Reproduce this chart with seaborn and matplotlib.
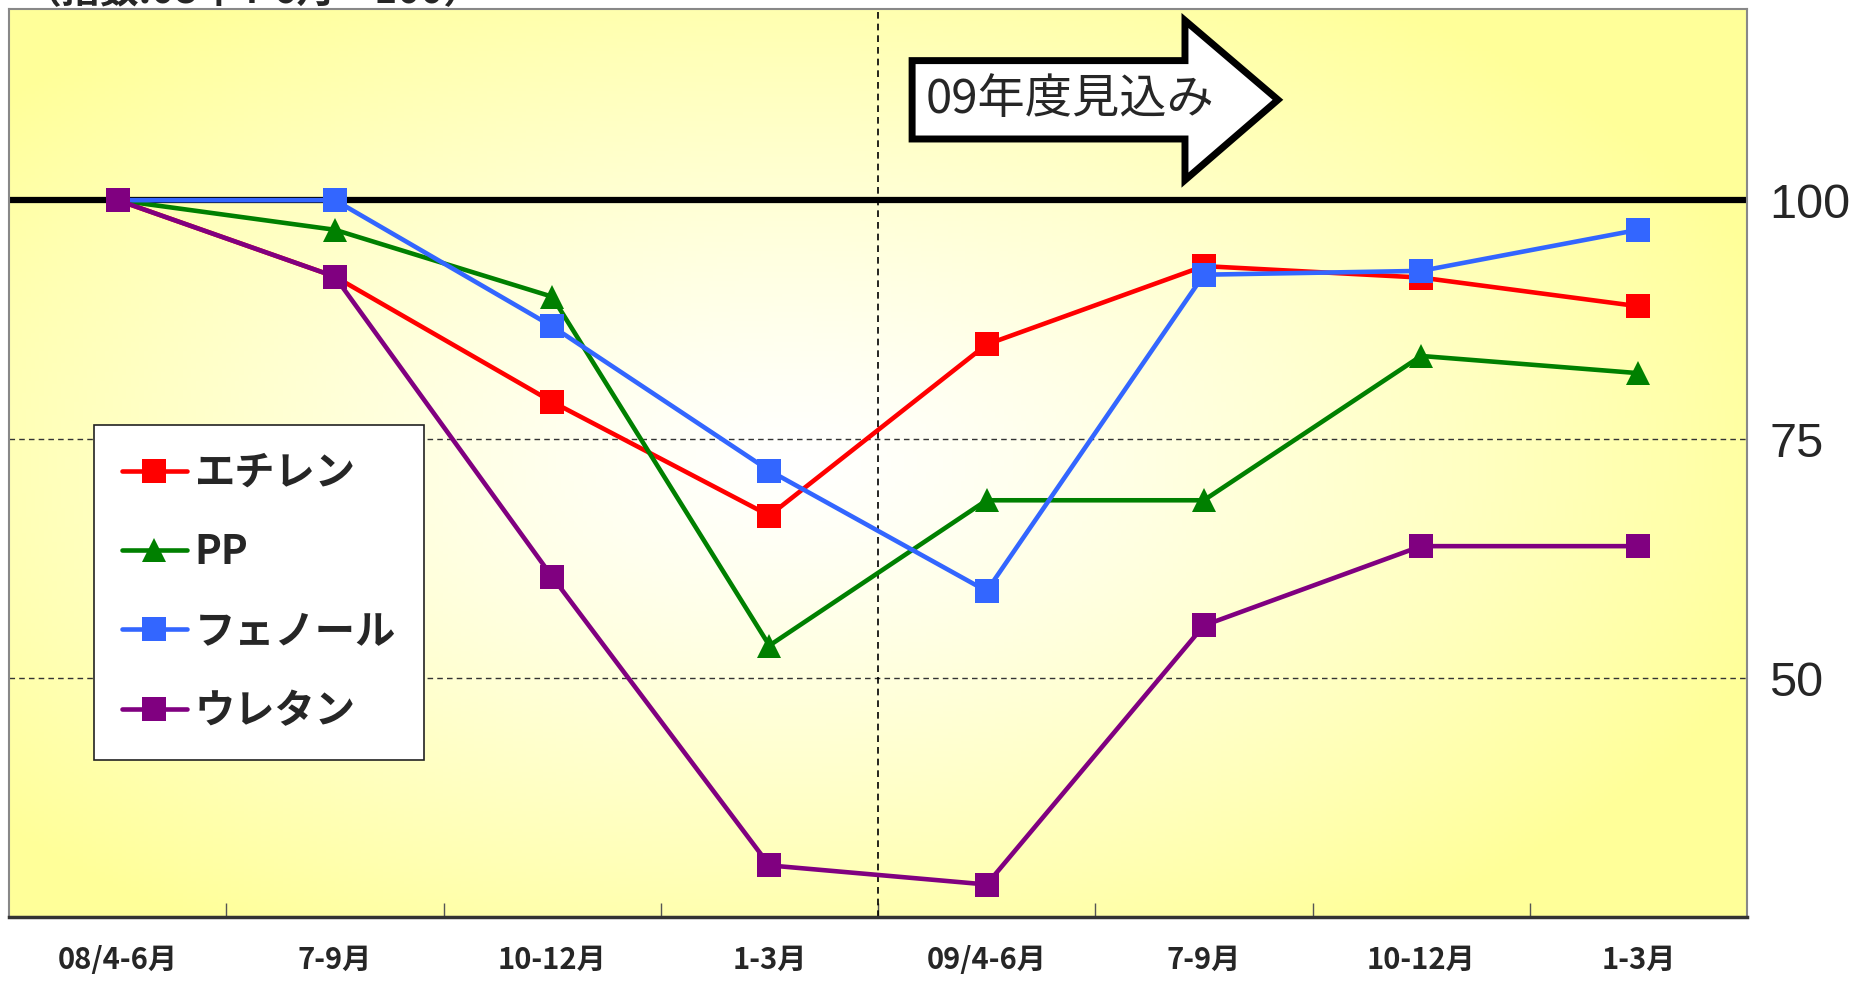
import numpy as np
import pandas as pd
import matplotlib
matplotlib.use('Agg')
import matplotlib.pyplot as plt
from matplotlib.patches import Polygon
import seaborn as sns

# データ（指数：08年4-6月＝100）
quarters = ['08/4-6月', '7-9月', '10-12月', '1-3月', '09/4-6月', '7-9月', '10-12月', '1-3月']
series_names = ['エチレン', 'PP', 'フェノール', 'ウレタン']
ethylene = [100, 92.0, 78.9, 67.0, 84.9, 93.1, 91.9, 88.9]
pp = [100, 96.9, 89.9, 53.4, 68.6, 68.6, 83.7, 81.9]
phenol = [100, 100, 86.8, 71.7, 59.1, 92.2, 92.6, 96.9]
urethane = [100, 92.0, 60.6, 30.4, 28.4, 55.5, 63.8, 63.8]
y_ticks = [50, 75, 100]

colors = ['#FF0000', '#008000', '#3366FF', '#800080']
markers = ['s', '^', 's', 's']

sns.set_style('white')
plt.rcParams['font.family'] = ['Noto Sans CJK JP', 'DejaVu Sans']

fig = plt.figure(figsize=(18.53, 9.81), dpi=100)
ax = fig.add_axes([9 / 1853, 1 - 917 / 981, 1738 / 1853, 908 / 981])

# 背景グラデーション
gx, gy = np.meshgrid(np.linspace(0, 1, 400), np.linspace(0, 1, 300))
d = np.sqrt(((gx - 0.45) / 0.6) ** 2 + ((gy - 0.5) / 0.62) ** 2)
t = np.clip(d, 0, 1) ** 1.2
yellow = np.array([1.0, 1.0, 0.6])
img = (1 - t)[..., None] * np.array([1.0, 1.0, 1.0]) + t[..., None] * yellow
ax.imshow(img, extent=[-0.5, 7.5, 25, 120], origin='lower', aspect='auto', zorder=0)

x = np.arange(len(quarters))
df = pd.DataFrame({'x': np.tile(x, 4),
                   'value': ethylene + pp + phenol + urethane,
                   'series': np.repeat(series_names, len(quarters))})

for y in [50, 75]:
    ax.axhline(y, color='#333333', lw=1.0, ls=(0, (4, 3)), zorder=1)
ax.axhline(100, color='black', lw=4.5, zorder=2)
ax.axvline(3.5, color='black', lw=1.2, ls=(0, (4, 3)), zorder=1)

for name, c, m in zip(series_names, colors, markers):
    sub = df[df['series'] == name]
    sns.lineplot(data=sub, x='x', y='value', color=c, marker=m, markersize=17,
                 markeredgewidth=0, lw=3.3, label=name, ax=ax, zorder=3)

ax.set_xlim(-0.5, 7.5)
ax.set_ylim(25, 120)
ax.set_xlabel('')
ax.set_ylabel('')

ax.set_xticks(x)
ax.set_xticklabels(quarters, fontsize=21, fontweight='bold')
ax.set_xticks(np.arange(0.5, 7.5, 1), minor=True)
ax.tick_params(axis='x', which='major', length=0, pad=20)
ax.tick_params(axis='x', which='minor', direction='in', length=10, width=1, color='#555555', bottom=True)

ax.set_yticks(y_ticks)
ax.yaxis.tick_right()
ax.tick_params(axis='y', length=0, pad=16, labelsize=35)
for lab in ax.get_yticklabels():
    lab.set_family(['Liberation Sans', 'DejaVu Sans'])

for s in ['left', 'top', 'right']:
    ax.spines[s].set_color('#888888')
    ax.spines[s].set_linewidth(1.5)
ax.spines['bottom'].set_color('#333333')
ax.spines['bottom'].set_linewidth(2.5)

leg = ax.legend(loc='upper left', bbox_to_anchor=(0.0489, 0.542), borderaxespad=0,
                prop={'weight': 'bold', 'size': 29}, frameon=True, fancybox=False,
                handlelength=1.6, handletextpad=0.2, labelspacing=0.95, borderpad=0.7)
leg.get_frame().set_edgecolor('#222222')
leg.get_frame().set_linewidth(1.2)
leg.get_frame().set_facecolor('white')
leg.get_frame().set_alpha(1)
leg.set_zorder(5)

# 矢印
arrow = Polygon([(3.657, 114.6), (4.913, 114.6), (4.913, 118.8), (5.341, 110.5),
                 (4.913, 102.1), (4.913, 106.4), (3.657, 106.4)],
                closed=True, facecolor='white', edgecolor='black', lw=5, zorder=4)
ax.add_patch(arrow)
ax.text(3.72, 110.5, '09年度見込み', fontsize=34, va='center', ha='left', zorder=5)

# 上端で切れている注記（参照画像と同じ）
fig.text(0.012, 1 + 8 / 981, '（指数:08年4-6月＝100）', fontsize=28, fontweight='bold', va='center', ha='left')

fig.savefig('out.png', dpi=100)
